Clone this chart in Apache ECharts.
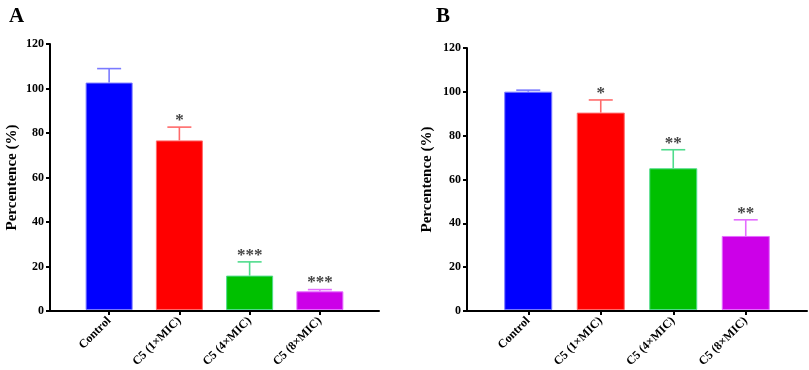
<!DOCTYPE html>
<html>
<head>
<meta charset="utf-8">
<script src="https://cdn.jsdelivr.net/npm/echarts@6/dist/echarts.min.js"></script>
<style>html,body{margin:0;padding:0;background:#fff}#c{width:809px;height:370px}</style>
</head>
<body>
<div id="c"></div>
<script>
// ---- data ----
var categories = ['Control', 'C5 (1×MIC)', 'C5 (4×MIC)', 'C5 (8×MIC)'];
var meanA = [102.6, 76.5, 15.5, 8.4];
var errA = [6.3, 6.0, 6.2, 0.8];
var starsA = ['', '*', '***', '***'];
var meanB = [100.0, 90.4, 64.9, 33.9];
var errB = [0.7, 5.8, 8.5, 7.4];
var starsB = ['', '*', '**', '**'];
var yTicks = [0, 20, 40, 60, 80, 100, 120];
var yTitle = 'Percentence (%)';

var barColors = ['#0000ff', '#ff0000', '#00c000', '#cc00e8'];
var errColors = ['#7a7aff', '#ff6a6a', '#4fdc8c', '#e46cff'];
var FONT = '"Liberation Serif", "Times New Roman", serif';

var chart = echarts.init(document.getElementById('c'));

function axesX(gi) {
  return {gridIndex: gi, type: 'value', min: 0, max: 1,
    axisLine: {show: true, onZero: false, lineStyle: {color: '#000', width: 2}},
    axisTick: {show: false}, axisLabel: {show: false}, splitLine: {show: false}};
}
function axesY(gi, nameGap) {
  return {gridIndex: gi, type: 'value', min: yTicks[0], max: yTicks[yTicks.length - 1], interval: 20,
    name: yTitle, nameLocation: 'middle', nameGap: nameGap,
    nameTextStyle: {fontFamily: FONT, fontWeight: 'bold', fontSize: 15, color: '#000'},
    axisLine: {show: true, lineStyle: {color: '#000', width: 2}},
    axisTick: {show: true, length: 4, lineStyle: {color: '#000', width: 2}},
    axisLabel: {margin: 6, fontFamily: FONT, fontWeight: 'bold', fontSize: 12, color: '#000'},
    splitLine: {show: false}};
}
function barX(gi) {
  return {gridIndex: gi, type: 'category', data: categories,
    axisLine: {show: false},
    axisTick: {show: true, alignWithLabel: true, length: 5, lineStyle: {color: '#000', width: 2}},
    axisLabel: {rotate: 45, margin: 9, fontFamily: FONT, fontWeight: 'bold', fontSize: 12, color: '#000', interval: 0},
    splitLine: {show: false}};
}
function barY(gi) {
  return {gridIndex: gi, type: 'value', min: 0, max: 120, show: false, splitLine: {show: false}};
}

function barSeries(idx, mean, bw) {
  return {type: 'bar', xAxisIndex: idx, yAxisIndex: idx, barWidth: bw, silent: true,
    data: mean.map(function (v, i) {
      return {value: v, itemStyle: {color: barColors[i], borderColor: errColors[i], borderWidth: 1}};
    })};
}
function errSeries(idx, mean, err, stars) {
  return {type: 'custom', xAxisIndex: idx, yAxisIndex: idx, silent: true, z: 5,
    data: mean.map(function (v, i) { return [i, v, err[i]]; }),
    renderItem: function (params, api) {
      var i = api.value(0);
      var p0 = api.coord([i, api.value(1)]);
      var p1 = api.coord([i, api.value(1) + api.value(2)]);
      var hw = 12;
      var st = {stroke: errColors[i], lineWidth: 1.6};
      var children = [
        {type: 'line', shape: {x1: p0[0], y1: p0[1], x2: p1[0], y2: p1[1]}, style: st},
        {type: 'line', shape: {x1: p1[0] - hw, y1: p1[1], x2: p1[0] + hw, y2: p1[1]}, style: st}
      ];
      if (stars[i]) {
        children.push({type: 'text', style: {text: stars[i], x: p1[0], y: p1[1] + 2,
          align: 'center', verticalAlign: 'bottom', fill: '#444',
          font: 'bold 17px ' + FONT}});
      }
      return {type: 'group', children: children};
    }};
}

chart.setOption({
  animation: false,
  backgroundColor: '#fff',
  title: [
    {text: 'A', left: 4, top: 1, textStyle: {fontFamily: FONT, fontWeight: 'bold', fontSize: 21, color: '#000'}},
    {text: 'B', left: 431, top: 1, textStyle: {fontFamily: FONT, fontWeight: 'bold', fontSize: 21, color: '#000'}}
  ],
  grid: [
    {left: 50, right: 430, top: 44, bottom: 59},
    {left: 74, right: 454, top: 44, bottom: 59},
    {left: 467, right: 2, top: 48, bottom: 59},
    {left: 492, right: 27, top: 48, bottom: 59}
  ],
  xAxis: [axesX(0), barX(1), axesX(2), barX(3)],
  yAxis: [axesY(0, 30), barY(1), axesY(2, 32), barY(3)],
  series: [
    barSeries(1, meanA, 47),
    errSeries(1, meanA, errA, starsA),
    barSeries(3, meanB, 48),
    errSeries(3, meanB, errB, starsB)
  ]
});
</script>
</body>
</html>
